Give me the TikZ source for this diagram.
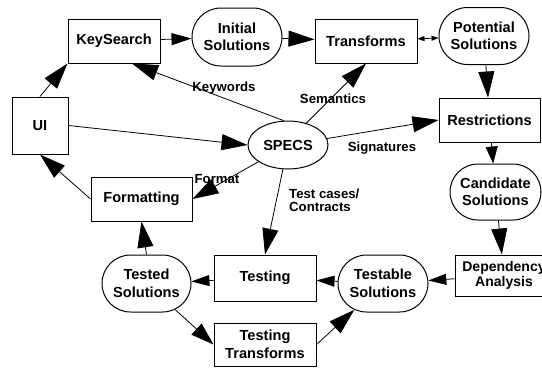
\documentclass[tikz,border=0pt]{standalone}
\usepackage{fontspec}
\setmainfont{Liberation Sans}
\usetikzlibrary{arrows.meta,shapes.misc,shapes.geometric}
\begin{document}
\begin{tikzpicture}[x=1pt,y=-1pt,
  nfont/.style={font=\bfseries\fontsize{14.6}{17.5}\selectfont},
  box/.style={draw,line width=1pt,rectangle,inner sep=0pt,nfont,align=center},
  stad/.style={draw,line width=1pt,rounded rectangle,inner sep=0pt,nfont,align=center},
  oval/.style={draw,line width=1pt,ellipse,inner sep=0pt,nfont},
  lbl/.style={font=\bfseries\fontsize{13.2}{12.5}\selectfont,inner sep=0pt,align=left},
  conn/.style={line width=0.8pt},
  big/.style={conn,-{Triangle[length=26pt,width=16pt]}},
  small/.style={conn,-{Triangle[length=18pt,width=11pt]}},
  tiny/.style={conn,{Triangle[length=7pt,width=5pt]}-{Triangle[length=7pt,width=5pt]}},
]
\clip (0,0) rectangle (542,368);
\fill[white] (0,0) rectangle (542,368);
% nodes
\node[box,minimum width=92pt,minimum height=44pt] (ks) at (114,41) {KeySearch};
\node[stad,minimum width=90pt,minimum height=58pt] (init) at (237,37) {Initial\\Solutions};
\node[box,minimum width=102pt,minimum height=44pt] (trans) at (366,41) {Transforms};
\node[stad,minimum width=90pt,minimum height=57pt] (pot) at (484,36) {Potential\\Solutions};
\node[box,minimum width=101pt,minimum height=44pt] (rest) at (489.5,120) {Restrictions};
\node[box,minimum width=56pt,minimum height=57pt] (ui) at (40,125.5) {UI};
\node[oval,minimum width=80pt,minimum height=48pt] (specs) at (288,145) {SPECS};
\node[box,minimum width=101pt,minimum height=44pt] (fmt) at (141.5,199) {Formatting};
\node[stad,minimum width=91pt,minimum height=56pt] (cand) at (495.5,192) {Candidate\\Solutions};
\node[box,minimum width=98pt,minimum height=41pt,font=\bfseries\fontsize{14}{15}\selectfont] (dep) at (504,275.5) {Dependency\\Analysis};
\node[stad,minimum width=90pt,minimum height=57pt] (testable) at (383,283.5) {Testable\\Solutions};
\node[box,minimum width=102pt,minimum height=46pt] (test) at (265,278) {Testing};
\node[stad,minimum width=89pt,minimum height=57pt] (tested) at (146.5,283.5) {Tested\\Solutions};
\node[box,minimum width=102pt,minimum height=43pt] (tt) at (265,344.5) {Testing\\Transforms};
% connectors
\draw[big] (ui.north) -- (ks.south west);
\draw[big] (ui.east) -- (specs.west);
\draw[big] (specs.100) -- ([xshift=18pt]ks.south);
\draw[big] (specs.50) -- (trans.south);
\draw[big] (specs) -- (rest.west);
\draw[big] (specs) -- (fmt.east);
\draw[big] (specs) -- (test.north);
\draw[big] (fmt.west) -- (ui.south);
\draw[big] (tested.north) -- (fmt.south);
\draw[conn,-{Triangle[length=20pt,width=12pt]}] (ks) -- (init);
\draw[big] (init) -- (trans);
\draw[tiny] (trans) -- (pot);
\draw[big] (pot) -- (rest);
\draw[conn,-{Triangle[length=17pt,width=12pt]}] (rest) -- (cand);
\draw[big] (cand) -- (dep);
\draw[small] (dep) -- (testable);
\draw[small] (testable) -- (test);
\draw[small] (test) -- (tested);
\draw[conn,-{Triangle[length=23pt,width=15pt]}] (tested) -- (tt.west);
\draw[big] (tt.east) -- (testable);
% labels
\node[lbl] (lkw) at (224,88) {Keywords};
\node[lbl] (lsem) at (333,99) {Semantics};
\node[lbl] (lsig) at (382,148) {Signatures};
\node[lbl] (lfmt) at (217,179) {Format};
\node[lbl,anchor=north west] (ltc) at (289,189) {Test cases/\\Contracts};
\end{tikzpicture}
\end{document}
